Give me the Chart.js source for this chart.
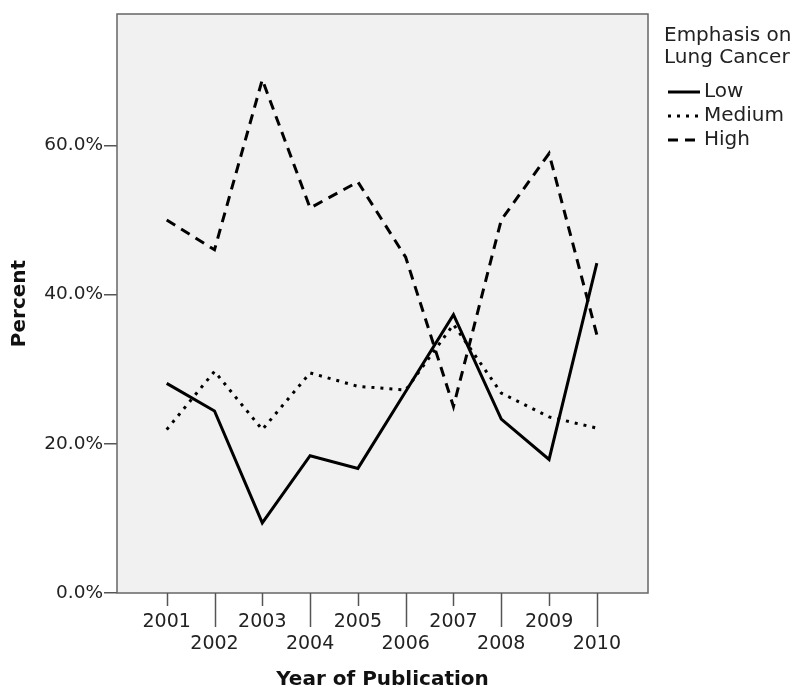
<!DOCTYPE html>
<html>
<head>
<meta charset="utf-8">
<script src="https://cdn.jsdelivr.net/npm/chart.js@4.4.1/dist/chart.umd.min.js"></script>
<style>
  body { margin: 0; background: #fff; }
  canvas { display: block; }
</style>
</head>
<body>
<canvas id="myChart" width="802" height="687"></canvas>
<script>
const years = [2001, 2002, 2003, 2004, 2005, 2006, 2007, 2008, 2009, 2010];
const lowValues = [28.1, 24.4, 9.4, 18.4, 16.7, 27.0, 37.3, 23.3, 17.9, 44.2];
const mediumValues = [21.9, 29.7, 21.9, 29.5, 27.7, 27.2, 36.0, 26.8, 23.6, 22.1];
const highValues = [50.0, 46.0, 68.8, 51.6, 55.1, 45.0, 25.0, 50.0, 58.9, 34.6];
const yTicks = [0, 20, 40, 60];
const legendTitle = ['Emphasis on', 'Lung Cancer'];

const FONT = '"DejaVu Sans", sans-serif';
const ctx = document.getElementById('myChart').getContext('2d');

function toPoints(values) {
    return values.map((v, i) => ({ x: years[i], y: v }));
}

// grey plot background + frame, custom ticks on x, legend on the right
const decorations = {
    id: 'decorations',
    beforeDatasetsDraw(chart) {
        const a = chart.chartArea;
        const c = chart.ctx;
        c.save();
        c.fillStyle = '#f1f1f1';
        c.fillRect(a.left, a.top, a.right - a.left, a.bottom - a.top);
        c.restore();
    },
    afterDraw(chart) {
        const a = chart.chartArea;
        const c = chart.ctx;
        const xs = chart.scales.x;
        c.save();
        c.strokeStyle = '#666';
        c.lineWidth = 1.5;
        c.strokeRect(a.left, a.top, a.right - a.left, a.bottom - a.top);

        // x tick marks: odd years short, even years long
        c.strokeStyle = '#555';
        c.lineWidth = 1.5;
        years.forEach((yr, i) => {
            const px = Math.round(xs.getPixelForValue(yr)) + 0.5;
            c.beginPath();
            c.moveTo(px, a.bottom);
            c.lineTo(px, a.bottom + (i % 2 === 0 ? 13 : 34));
            c.stroke();
        });

        // legend
        const lx = 664;
        c.fillStyle = '#222';
        c.font = '20px ' + FONT;
        c.textBaseline = 'middle';
        c.textAlign = 'left';
        legendTitle.forEach((t, i) => c.fillText(t, lx, 36 + i * 22));
        chart.data.datasets.forEach((ds, i) => {
            const y = 92 + i * 24;
            c.strokeStyle = '#000';
            c.lineWidth = 3;
            c.setLineDash(ds.borderDash || []);
            c.beginPath();
            c.moveTo(lx + 4, y);
            c.lineTo(lx + 36, y);
            c.stroke();
            c.setLineDash([]);
            c.fillText(ds.label, lx + 40, y);
        });
        c.restore();
    }
};

const chart = new Chart(ctx, {
    type: 'line',
    data: {
        datasets: [
            {
                label: 'Low',
                data: toPoints(lowValues),
                borderColor: '#000',
                borderWidth: 3,
                pointRadius: 0,
                tension: 0
            },
            {
                label: 'Medium',
                data: toPoints(mediumValues),
                borderColor: '#000',
                borderWidth: 3,
                borderDash: [3, 6],
                pointRadius: 0,
                tension: 0
            },
            {
                label: 'High',
                data: toPoints(highValues),
                borderColor: '#000',
                borderWidth: 3,
                borderDash: [10, 7],
                pointRadius: 0,
                tension: 0
            }
        ]
    },
    options: {
        responsive: false,
        animation: false,
        layout: { padding: { top: 14, right: 154, bottom: 0, left: 0 } },
        plugins: {
            legend: { display: false },
            tooltip: { enabled: false }
        },
        scales: {
            x: {
                type: 'linear',
                min: 1999.96,
                max: 2011.07,
                afterBuildTicks: scale => { scale.ticks = years.map(v => ({ value: v })); },
                afterFit: scale => { scale.height = 94; },
                grid: { drawOnChartArea: false, tickLength: 14, tickColor: 'rgba(0,0,0,0)' },
                border: { display: false },
                ticks: {
                    autoSkip: false,
                    maxRotation: 0,
                    padding: 4,
                    color: '#222',
                    font: { family: FONT, size: 19, lineHeight: 1.15 },
                    callback: v => (years.indexOf(v) % 2 === 0 ? [String(v)] : ['', String(v)])
                },
                title: {
                    display: true,
                    text: 'Year of Publication',
                    color: '#111',
                    font: { family: FONT, size: 20, weight: 'bold' },
                    padding: { top: 0, bottom: -5 }
                }
            },
            y: {
                min: 0,
                max: 77.6,
                afterBuildTicks: scale => { scale.ticks = yTicks.map(v => ({ value: v })); },
                afterFit: scale => { scale.width = 117; },
                grid: { drawOnChartArea: false, tickLength: 13, tickColor: '#555', lineWidth: 1.5 },
                border: { display: false },
                ticks: {
                    padding: 1,
                    color: '#222',
                    font: { family: FONT, size: 18.5 },
                    callback: v => v.toFixed(1) + '%'
                },
                title: {
                    display: true,
                    text: 'Percent',
                    color: '#111',
                    font: { family: FONT, size: 20, weight: 'bold' },
                    padding: { top: 8, bottom: 0 }
                }
            }
        }
    },
    plugins: [decorations]
});
</script>
</body>
</html>
